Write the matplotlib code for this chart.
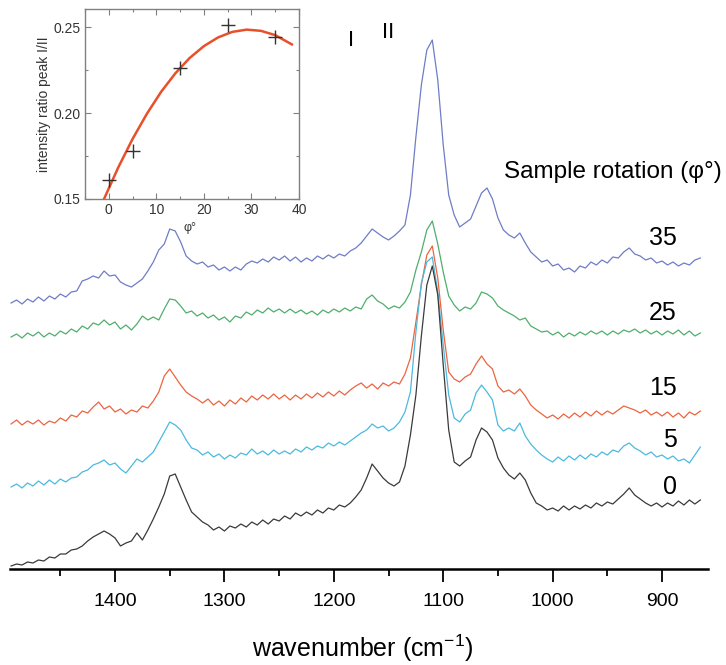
import matplotlib
matplotlib.use("Agg")
import matplotlib.pyplot as plt
from matplotlib.ticker import MultipleLocator

plt.rcParams['font.family'] = ['Liberation Sans', 'DejaVu Sans']
plt.rcParams['mathtext.fontset'] = 'custom'
plt.rcParams['mathtext.rm'] = 'Liberation Sans'
plt.rcParams['mathtext.it'] = 'Liberation Sans:italic'

# ---------------- data ----------------
wavenumber = [
    1495, 1490, 1485, 1480, 1475, 1470, 1465, 1460, 1455, 1450,
    1445, 1440, 1435, 1430, 1425, 1420, 1415, 1410, 1405, 1400,
    1395, 1390, 1385, 1380, 1375, 1370, 1365, 1360, 1355, 1350,
    1345, 1340, 1335, 1330, 1325, 1320, 1315, 1310, 1305, 1300,
    1295, 1290, 1285, 1280, 1275, 1270, 1265, 1260, 1255, 1250,
    1245, 1240, 1235, 1230, 1225, 1220, 1215, 1210, 1205, 1200,
    1195, 1190, 1185, 1180, 1175, 1170, 1165, 1160, 1155, 1150,
    1145, 1140, 1135, 1130, 1125, 1120, 1115, 1110, 1105, 1100,
    1095, 1090, 1085, 1080, 1075, 1070, 1065, 1060, 1055, 1050,
    1045, 1040, 1035, 1030, 1025, 1020, 1015, 1010, 1005, 1000,
    995, 990, 985, 980, 975, 970, 965, 960, 955, 950,
    945, 940, 935, 930, 925, 920, 915, 910, 905, 900,
    895, 890, 885, 880, 875, 870, 865]

intensity_0 = [
    3, 5, 4, 7, 6, 9, 8, 12, 11, 15,
    15, 19, 20, 23, 28, 32, 35, 38, 35, 31,
    23, 26, 28, 36, 29, 39, 50, 62, 75, 93,
    95, 82, 69, 57, 52, 47, 44, 39, 42, 38,
    43, 41, 45, 42, 47, 44, 49, 45, 50, 48,
    53, 50, 56, 53, 57, 54, 59, 56, 61, 59,
    64, 62, 66, 72, 79, 91, 105, 98, 91, 86,
    83, 87, 103, 134, 174, 233, 284, 303, 274, 204,
    139, 107, 103, 108, 112, 129, 141, 137, 129, 111,
    101, 94, 90, 96, 89, 76, 66, 63, 59, 61,
    58, 63, 59, 63, 60, 64, 61, 66, 63, 67,
    65, 70, 75, 81, 74, 70, 66, 63, 66, 62,
    66, 63, 68, 64, 69, 65, 69]

intensity_5 = [
    82, 85, 81, 86, 83, 88, 84, 89, 85, 90,
    87, 91, 92, 97, 99, 104, 106, 109, 104, 106,
    100, 96, 103, 110, 107, 112, 117, 127, 137, 147,
    144, 139, 129, 121, 119, 114, 117, 112, 115, 110,
    114, 111, 116, 114, 120, 115, 118, 114, 119, 115,
    118, 115, 120, 117, 122, 119, 123, 121, 126, 123,
    127, 124, 128, 132, 136, 139, 145, 141, 143, 138,
    141, 147, 157, 177, 237, 286, 307, 312, 277, 224,
    174, 151, 147, 155, 159, 176, 184, 177, 169, 144,
    138, 141, 138, 146, 133, 125, 119, 114, 110, 107,
    112, 108, 113, 109, 114, 110, 115, 112, 117, 114,
    119, 117, 123, 126, 121, 118, 114, 117, 112, 114,
    110, 113, 108, 110, 106, 114, 122]

intensity_15 = [
    145, 149, 144, 148, 145, 149, 144, 148, 146, 151,
    148, 154, 152, 158, 156, 162, 167, 160, 163, 157,
    160, 155, 159, 157, 163, 161, 168, 177, 193, 200,
    192, 184, 177, 173, 170, 166, 170, 164, 168, 163,
    169, 165, 171, 167, 173, 169, 174, 170, 175, 170,
    174, 169, 174, 170, 175, 171, 176, 172, 177, 173,
    178, 174, 179, 183, 186, 181, 185, 180, 186, 183,
    187, 185, 195, 211, 247, 284, 314, 323, 291, 239,
    197, 190, 187, 192, 195, 205, 213, 205, 200, 183,
    177, 179, 175, 180, 173, 164, 159, 155, 151, 154,
    150, 155, 151, 156, 152, 157, 153, 158, 154, 158,
    155, 159, 163, 161, 159, 156, 159, 154, 157, 153,
    157, 152, 156, 151, 157, 154, 158]

intensity_25 = [
    232, 235, 231, 236, 233, 237, 232, 236, 233, 238,
    235, 240, 237, 243, 240, 246, 244, 249, 244, 247,
    240, 244, 239, 245, 253, 249, 252, 249, 260, 270,
    269, 263, 256, 258, 253, 256, 251, 254, 249, 252,
    247, 253, 251, 257, 254, 259, 256, 261, 257, 260,
    256, 260, 256, 259, 255, 258, 254, 259, 256, 260,
    257, 261, 258, 262, 260, 270, 274, 268, 265, 260,
    263, 261, 267, 277, 299, 317, 339, 348, 325, 297,
    273, 264, 258, 262, 260, 266, 277, 275, 271, 263,
    259, 256, 253, 249, 251, 243, 240, 237, 238, 234,
    237, 232, 236, 233, 237, 234, 238, 235, 238, 234,
    238, 235, 239, 237, 240, 236, 239, 235, 238, 234,
    238, 235, 239, 234, 238, 233, 236]

intensity_35 = [
    266, 269, 265, 270, 267, 272, 268, 273, 270, 275,
    272, 277, 278, 288, 290, 293, 291, 298, 293, 294,
    287, 284, 282, 286, 290, 298, 307, 319, 325, 340,
    338, 327, 313, 308, 305, 307, 302, 304, 299, 302,
    298, 302, 299, 305, 308, 306, 310, 307, 312, 309,
    313, 308, 312, 307, 311, 308, 313, 310, 314, 311,
    315, 313, 318, 321, 326, 333, 340, 336, 332, 329,
    333, 338, 344, 374, 432, 484, 519, 529, 489, 424,
    374, 354, 342, 346, 350, 363, 376, 381, 370, 351,
    339, 334, 331, 336, 326, 317, 312, 307, 309, 303,
    305, 299, 301, 297, 303, 301, 307, 304, 309, 306,
    312, 311, 317, 321, 315, 313, 309, 311, 306, 308,
    304, 307, 303, 306, 304, 309, 311]

rotation_labels = ["0", "5", "15", "25", "35"]

# inset data
phi = [0, 5, 15, 25, 35]
ratio = [0.161, 0.178, 0.226, 0.251, 0.244]
phi_fit = [-1, 2, 5, 8, 11, 14, 17, 20, 23, 26, 29, 32, 35, 38.5]
ratio_fit = [0.1500, 0.1684, 0.1849, 0.1995, 0.2123, 0.2231, 0.2320,
             0.2389, 0.2440, 0.2472, 0.2485, 0.2478, 0.2453, 0.2399]

# ---------------- figure ----------------
W, H = 726, 665
fig = plt.figure(figsize=(W / 100, H / 100), dpi=100)

ax = fig.add_axes([10 / W, 1 - 569 / H, 698 / W, 569 / H])
series = [
    (intensity_35, '#6f7cc6'),
    (intensity_25, '#4fae6c'),
    (intensity_15, '#ec6440'),
    (intensity_5, '#4cb9df'),
    (intensity_0, '#3a3a3a'),
]
for vals, col in series:
    ax.plot(wavenumber, vals, color=col, lw=0.9)

ax.set_xlim(1496, 858)
ax.set_ylim(0, 569)
for s in ['left', 'right', 'top']:
    ax.spines[s].set_visible(False)
ax.spines['bottom'].set_linewidth(1.8)
ax.set_yticks([])
ax.xaxis.set_major_locator(MultipleLocator(100))
ax.xaxis.set_minor_locator(MultipleLocator(50))
ax.tick_params(axis='x', which='major', direction='out', length=9, width=1.3,
               labelsize=14, pad=8)
ax.tick_params(axis='x', which='minor', direction='out', length=5, width=1.3)
ax.patch.set_alpha(0)

fig.text(363 / W, 1 - 648 / H, 'wavenumber (cm$^{\\mathrm{-1}}$)', ha='center',
         va='center', fontsize=18)

# annotations
fig.text(351 / W, 1 - 40 / H, 'I', ha='center', va='center', fontsize=16)
fig.text(388 / W, 1 - 32 / H, 'II', ha='center', va='center', fontsize=16)
fig.text(613 / W, 1 - 172 / H, 'Sample rotation (\u03c6\u00b0)', ha='center',
         va='center', fontsize=17.5)
label_y = [487, 440, 388, 313, 238]
for lab, yy in zip(rotation_labels, label_y):
    fig.text(677 / W, 1 - yy / H, lab, ha='right', va='center', fontsize=18)

# ---------------- inset ----------------
ins = fig.add_axes([85 / W, 1 - 199 / H, 214 / W, 190 / H])
ins.plot(phi_fit, ratio_fit, color='#e8502a', lw=1.8, zorder=2)
ins.plot(phi, ratio, linestyle='none', marker='+', ms=10, mew=1.0,
         color='#333333', zorder=3)
ins.set_xlim(-5, 40)
ins.set_ylim(0.15, 0.2605)
ins.set_xticks([0, 10, 20, 30, 40])
ins.set_yticks([0.15, 0.20, 0.25])
ins.set_yticklabels(['0.15', '0.20', '0.25'])
ins.xaxis.set_minor_locator(MultipleLocator(5))
ins.yaxis.set_minor_locator(MultipleLocator(0.025))
for s in ins.spines.values():
    s.set_color('#808080')
    s.set_linewidth(1.0)
ins.tick_params(which='both', direction='in', top=True, right=True,
                colors='#808080', labelcolor='#333333', labelsize=10, width=0.8)
ins.tick_params(which='major', length=4, pad=3)
ins.tick_params(which='minor', length=2)
ins.set_ylabel('intensity ratio peak I/II', fontsize=10, color='#333333', labelpad=2)
fig.text(190 / W, 1 - 228 / H, '\u03c6\u00b0', ha='center', va='center',
         fontsize=9, color='#333333')

fig.savefig('out.png', dpi=100)
